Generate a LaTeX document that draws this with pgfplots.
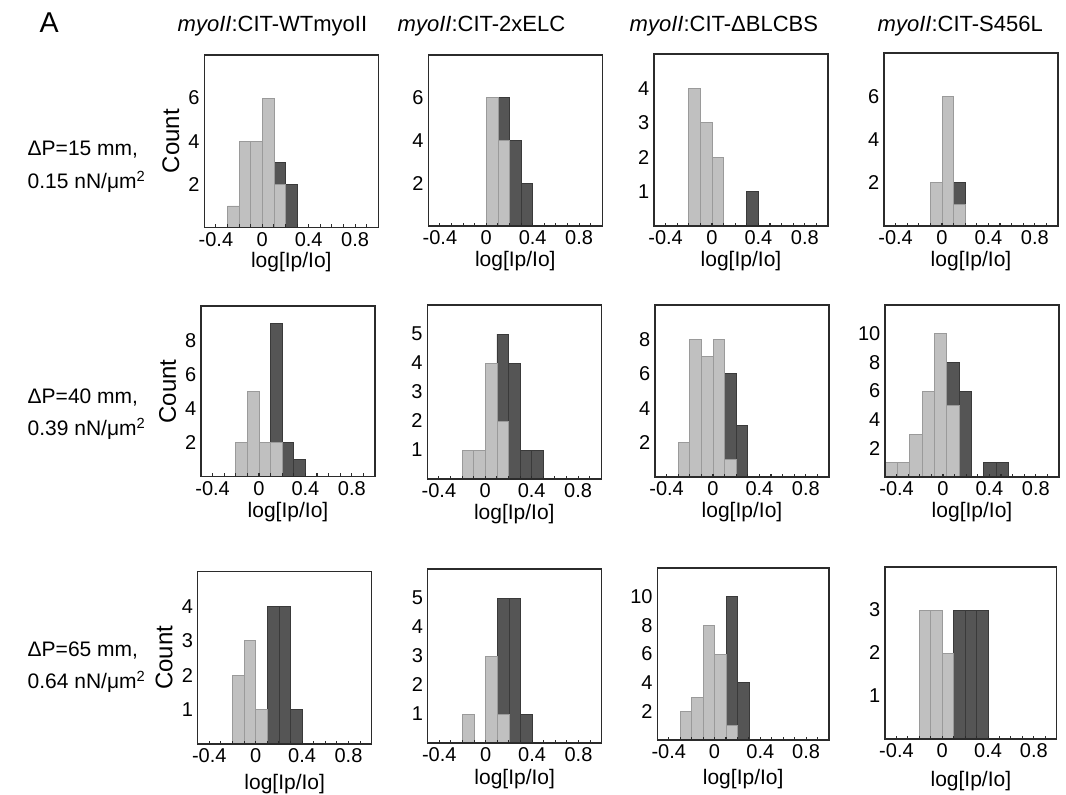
\documentclass[border=0pt]{standalone}
\usepackage{fontspec}
\setmainfont{Liberation Sans}
\usepackage{pgfplots}
\pgfplotsset{compat=1.18}

\definecolor{Ink}{HTML}{2B2B2B}
\definecolor{LightBar}{HTML}{C0C0C0}
\definecolor{LightEdge}{HTML}{9A9A9A}
\definecolor{DarkBar}{HTML}{555555}
\definecolor{DarkEdge}{HTML}{3A3A3A}

\pgfplotsset{
  hist/.style={
    scale only axis, anchor=south west, width=130.5pt,
    xmin=-0.5, xmax=1.0, ymin=0,
    axis on top,
    xtick={-0.4,0,0.4,0.8}, xticklabels={-0.4,0,0.4,0.8},
    minor xtick={-0.3,-0.2,-0.1,0.1,0.2,0.3,0.5,0.6,0.7,0.9},
    xtick pos=left, ytick pos=left,
    tick align=inside,
    major tick length=2.6pt, minor tick length=2.6pt,
    tick style={Ink, line width=0.8pt},
    ytick style={draw=none},
    axis line style={Ink, line width=1.1pt},
    tick label style={font=\fontsize{15}{18}\selectfont},
    /pgf/number format/assume math mode=true,
    xlabel={log[Ip/Io]},
    label style={font=\fontsize{15.75}{18}\selectfont},
    xlabel style={yshift=2.2pt},
    ylabel style={font=\fontsize{18}{20}\selectfont},
  },
  lowlabel/.style={xlabel style={yshift=#1}},
  lightbar/.style={ybar interval, fill=LightBar, draw=LightEdge, line width=0.6pt},
  darkbar/.style={ybar interval, fill=DarkBar, draw=DarkEdge, line width=0.6pt},
}

\newcommand\lbl{\fontsize{15.75}{18}\selectfont}
\newcommand\ttl{\fontsize{16.5}{20}\selectfont}

\begin{document}
\begin{tikzpicture}
\useasboundingbox (0,0) rectangle (799.5pt,-596.25pt);

% labels
\begin{scope}[x=0.75pt, y=-0.75pt]
\node[font=\fontsize{21.5}{24}\selectfont, anchor=base west] at (35,33) {A};
\node[font=\ttl, anchor=base west] at (173,32) {\textit{myoII}:CIT-WTmyoII};
\node[font=\ttl, anchor=base west] at (393,32) {\textit{myoII}:CIT-2xELC};
\node[font=\ttl, anchor=base west] at (625,32) {\textit{myoII}:CIT-ΔBLCBS};
\node[font=\ttl, anchor=base west] at (873,32) {\textit{myoII}:CIT-S456L};

\node[font=\lbl, anchor=base west] at (23,156) {ΔP=15 mm,};
\node[font=\lbl, anchor=base west] at (23,188) {0.15 nN/μm\textsuperscript{2}};
\node[font=\lbl, anchor=base west] at (23,403) {ΔP=40 mm,};
\node[font=\lbl, anchor=base west] at (23,435) {0.39 nN/μm\textsuperscript{2}};
\node[font=\lbl, anchor=base west] at (23,656) {ΔP=65 mm,};
\node[font=\lbl, anchor=base west] at (23,688) {0.64 nN/μm\textsuperscript{2}};
\end{scope}

% row 1
\begin{axis}[hist, at={(204.3*0.75pt,-227.5*0.75pt)}, height=129.4pt, ymax=8, ytick={2,4,6}, ylabel={Count}]
\addplot[darkbar] coordinates {(0.1,3) (0.2,2) (0.3,0)};
\addplot[lightbar] coordinates {(-0.3,1) (-0.2,4) (-0.1,4) (0,6) (0.1,2) (0.2,0)};
\end{axis}
\begin{axis}[hist, at={(428.3*0.75pt,-226*0.75pt)}, height=128.25pt, ymax=8, ytick={2,4,6}]
\addplot[darkbar] coordinates {(0.1,6) (0.2,4) (0.3,2) (0.4,0)};
\addplot[lightbar] coordinates {(0,6) (0.1,4) (0.2,0)};
\end{axis}
\begin{axis}[hist, at={(654*0.75pt,-226*0.75pt)}, height=129pt, ymax=5, ytick={1,2,3,4}]
\addplot[darkbar] coordinates {(0.3,1) (0.4,0)};
\addplot[lightbar] coordinates {(-0.2,4) (-0.1,3) (0,2) (0.1,0)};
\end{axis}
\begin{axis}[hist, at={(884*0.75pt,-226*0.75pt)}, height=129.75pt, ymax=8, ytick={2,4,6}]
\addplot[darkbar] coordinates {(0.1,2) (0.2,0)};
\addplot[lightbar] coordinates {(-0.1,2) (0,6) (0.1,1) (0.2,0)};
\end{axis}

% row 2
\begin{axis}[hist, at={(201*0.75pt,-476.7*0.75pt)}, height=128pt, ymax=10, ytick={2,4,6,8}, ylabel={Count}]
\addplot[darkbar] coordinates {(0.1,9) (0.2,2) (0.3,1) (0.4,0)};
\addplot[lightbar] coordinates {(-0.2,2) (-0.1,5) (0,2) (0.1,2) (0.2,0)};
\end{axis}
\begin{axis}[hist, at={(427.3*0.75pt,-479*0.75pt)}, height=130.5pt, ymax=6, ytick={1,2,3,4,5}]
\addplot[darkbar] coordinates {(0.1,5) (0.2,4) (0.3,1) (0.4,1) (0.5,0)};
\addplot[lightbar] coordinates {(-0.2,1) (-0.1,1) (0,4) (0.1,2) (0.2,0)};
\end{axis}
\begin{axis}[hist, at={(655*0.75pt,-477*0.75pt)}, height=129pt, ymax=10, ytick={2,4,6,8}]
\addplot[darkbar] coordinates {(0.1,6) (0.2,3) (0.3,0)};
\addplot[lightbar] coordinates {(-0.3,2) (-0.2,8) (-0.1,7) (0,8) (0.1,1) (0.2,0)};
\end{axis}
\begin{axis}[hist, at={(885*0.75pt,-477*0.75pt)}, height=129pt, ymax=12, ytick={2,4,6,8,10}]
\addplot[darkbar] coordinates {(0.0325,8) (0.139,6) (0.2455,0)};
\addplot[darkbar] coordinates {(0.352,1) (0.4585,1) (0.565,0)};
\addplot[lightbar] coordinates {(-0.5,1) (-0.3935,1) (-0.287,3) (-0.1805,6) (-0.074,10) (0.0325,5) (0.139,0)};
\end{axis}

% row 3
\begin{axis}[hist, lowlabel=-4pt, at={(197.7*0.75pt,-744*0.75pt)}, height=129.2pt, ymax=5, ytick={1,2,3,4}, ylabel={Count}]
\addplot[darkbar] coordinates {(0.1,4) (0.2,4) (0.3,1) (0.4,0)};
\addplot[lightbar] coordinates {(-0.2,2) (-0.1,3) (0,1) (0.1,0)};
\end{axis}
\begin{axis}[hist, lowlabel=-1.2pt, at={(427.7*0.75pt,-743*0.75pt)}, height=130.5pt, ymax=6, ytick={1,2,3,4,5}]
\addplot[darkbar] coordinates {(0.1,5) (0.2,5) (0.3,1) (0.4,0)};
\addplot[lightbar] coordinates {(-0.2,1) (-0.1,0)};
\addplot[lightbar] coordinates {(0,3) (0.1,1) (0.2,0)};
\end{axis}
\begin{axis}[hist, lowlabel=-3.4pt, at={(657.3*0.75pt,-740*0.75pt)}, width=128.8pt, height=129pt, ymax=12, ytick={2,4,6,8,10}]
\addplot[darkbar] coordinates {(0.1,10) (0.2,4) (0.3,0)};
\addplot[lightbar] coordinates {(-0.3,2) (-0.2,3) (-0.1,8) (0,6) (0.1,1) (0.2,0)};
\end{axis}
\begin{axis}[hist, lowlabel=-5.5pt, at={(885*0.75pt,-739*0.75pt)}, width=128.8pt, height=129pt, ymax=4, ytick={1,2,3}]
\addplot[darkbar] coordinates {(0.1,3) (0.2,3) (0.3,3) (0.4,0)};
\addplot[lightbar] coordinates {(-0.2,3) (-0.1,3) (0,2) (0.1,0)};
\end{axis}
\end{tikzpicture}
\end{document}
